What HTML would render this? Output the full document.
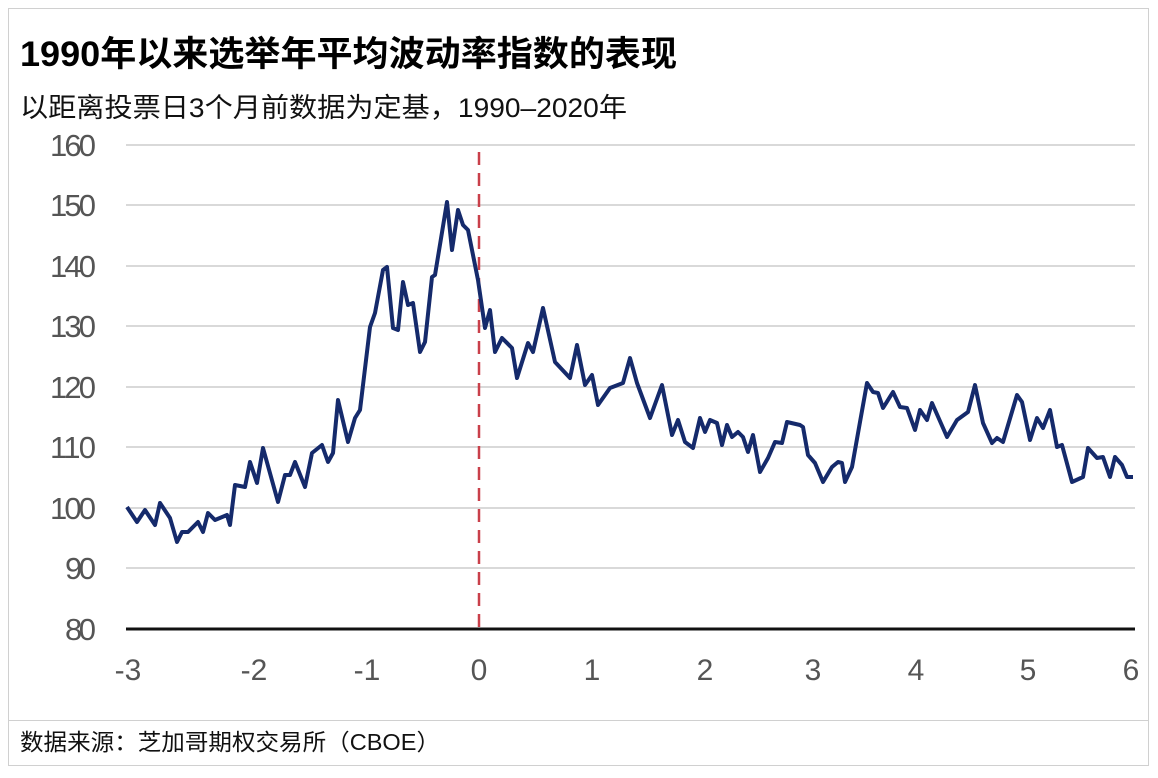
<!DOCTYPE html>
<html><head><meta charset="utf-8"><style>
body{margin:0;background:#fff;width:1158px;height:773px;overflow:hidden;font-family:"Liberation Sans","Noto Sans CJK SC",sans-serif}
</style></head><body>
<svg width="1158" height="773" viewBox="0 0 1158 773" xmlns="http://www.w3.org/2000/svg" font-family="Liberation Sans, Noto Sans CJK SC, sans-serif">
<rect x="8.5" y="8.5" width="1140" height="757" fill="none" stroke="#d0d0d0"/>
<line x1="8" y1="720.5" x2="1148" y2="720.5" stroke="#d0d0d0"/>
<text x="20" y="66" font-size="35" font-weight="bold" fill="#000" textLength="657" lengthAdjust="spacingAndGlyphs">1990年以来选举年平均波动率指数的表现</text>
<text x="20" y="117" font-size="27" fill="#111" textLength="607" lengthAdjust="spacingAndGlyphs">以距离投票日3个月前数据为定基，1990–2020年</text>
<g stroke="#d9d9d9" stroke-width="2">
<line x1="126" y1="145" x2="1135" y2="145"/><line x1="126" y1="205" x2="1135" y2="205"/>
<line x1="126" y1="266" x2="1135" y2="266"/><line x1="126" y1="326" x2="1135" y2="326"/>
<line x1="126" y1="387" x2="1135" y2="387"/><line x1="126" y1="447" x2="1135" y2="447"/>
<line x1="126" y1="508" x2="1135" y2="508"/><line x1="126" y1="568" x2="1135" y2="568"/>
</g>
<line x1="126" y1="629" x2="1135" y2="629" stroke="#111" stroke-width="3"/>
<g font-size="31" fill="#555" text-anchor="end" lengthAdjust="spacingAndGlyphs">
<text x="96" y="156" textLength="46">160</text><text x="96" y="216" textLength="46">150</text><text x="96" y="277" textLength="46">140</text><text x="96" y="337" textLength="46">130</text><text x="96" y="398" textLength="46">120</text><text x="96" y="458" textLength="46">110</text><text x="96" y="519" textLength="46">100</text><text x="96" y="579" textLength="31">90</text><text x="96" y="640" textLength="31">80</text>
</g>
<g font-size="30" fill="#555" text-anchor="middle">
<text x="128" y="680">-3</text><text x="254" y="680">-2</text><text x="367" y="680">-1</text><text x="479" y="680">0</text><text x="592" y="680">1</text><text x="705" y="680">2</text><text x="813" y="680">3</text><text x="916" y="680">4</text><text x="1028" y="680">5</text><text x="1131" y="680">6</text>
</g>
<line x1="479" y1="152" x2="479" y2="629" stroke="#c9404a" stroke-width="2.5" stroke-dasharray="13,8"/>
<polyline fill="none" stroke="#152a6b" stroke-width="4" stroke-linejoin="round" points="127,507 137,522 145,510 155,525 160,503 170,518 177,542 182,532 188,532 198,522 203,532 208,513 215,520 227,515 230,525 235,485 245,487 250,462 257,483 263,448 278,502 285,475 290,475 295,462 305,487 312,453 322,445 328,462 333,453 338,400 348,442 355,418 360,410 370,327 375,313 383,270 387,267 393,328 398,330 403,282 408,305 413,303 420,352 425,342 432,277 435,275 447,202 452,250 458,210 463,225 468,230 478,280 485,328 490,310 495,352 502,338 512,348 517,378 528,343 533,352 543,308 555,362 570,378 577,345 585,385 592,375 598,405 610,388 623,383 630,358 637,383 650,418 662,385 672,435 678,420 685,442 693,448 700,418 705,432 710,420 717,423 722,445 727,425 732,437 738,432 743,437 748,452 753,435 760,472 768,458 775,442 782,443 787,422 800,425 803,427 808,455 815,463 823,482 832,467 838,462 842,463 845,482 852,467 860,422 867,383 873,392 878,393 883,408 893,392 900,407 907,408 915,430 920,410 927,420 932,403 947,437 957,420 968,412 975,385 983,423 992,443 997,438 1003,442 1017,395 1022,402 1030,440 1037,418 1043,428 1050,410 1057,447 1062,445 1072,482 1083,477 1088,448 1097,458 1103,457 1110,477 1115,457 1122,465 1127,477 1133,477"/>
<text x="20" y="750" font-size="23" fill="#111" textLength="420" lengthAdjust="spacingAndGlyphs">数据来源：芝加哥期权交易所（CBOE）</text>
</svg>
</body></html>
